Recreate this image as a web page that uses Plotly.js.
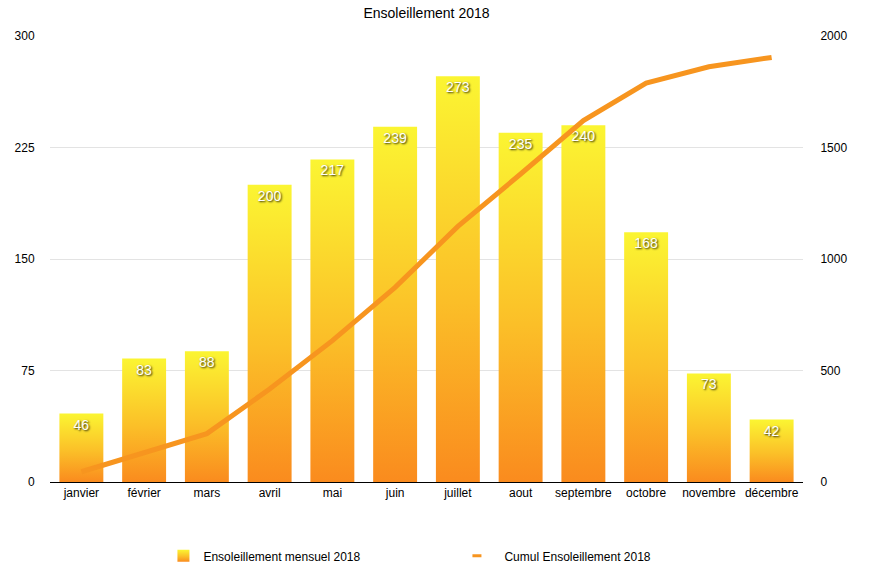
<!DOCTYPE html>
<html>
<head>
<meta charset="utf-8">
<script src="https://cdn.plot.ly/plotly-3.0.1.min.js"></script>
<style>html,body{margin:0;padding:0;background:#fff;}#chart{width:874px;height:579px;}</style>
</head>
<body>
<div id="chart"></div>
<script>
const months = ["janvier","février","mars","avril","mai","juin","juillet","aout","septembre","octobre","novembre","décembre"];
const monthly = [46, 83, 88, 200, 217, 239, 273, 235, 240, 168, 73, 42];
const cumul = [46, 129, 217, 417, 634, 873, 1146, 1381, 1621, 1789, 1862, 1904];
const leftTicks = [0, 75, 150, 225, 300];
const rightTicks = [0, 500, 1000, 1500, 2000];

const font = "Liberation Sans, Arial, Helvetica, sans-serif";

const traces = [
  {
    type: "bar",
    name: "Ensoleillement mensuel 2018",
    x: months,
    y: monthly,
    text: monthly.map(String),
    textposition: "inside",
    insidetextanchor: "end",
    textangle: 0,
    textfont: {color: "#ffffff", size: 14, family: font, shadow: "1px 1px 2px rgba(0,0,0,0.85)"},
    marker: {color: "#fbb02a", line: {width: 0}},
    hoverinfo: "skip"
  },
  {
    type: "scatter",
    mode: "lines",
    name: "Cumul Ensoleillement 2018",
    x: months,
    y: cumul,
    yaxis: "y2",
    line: {color: "#f7951f", width: 5},
    hoverinfo: "skip"
  }
];

const layout = {
  width: 874,
  height: 579,
  margin: {l: 50, r: 71, t: 36, b: 97},
  paper_bgcolor: "#ffffff",
  plot_bgcolor: "#ffffff",
  font: {family: font, size: 12, color: "#000"},
  title: {text: "Ensoleillement 2018", font: {size: 14, color: "#000", family: font}, x: 0.5, xanchor: "center", y: 0.978, yanchor: "middle", xref: "paper"},
  bargap: 0.3,
  showlegend: true,
  legend: {
    orientation: "h",
    xref: "container", yref: "container",
    x: 0.187, xanchor: "left",
    y: 0.04, yanchor: "middle",
    entrywidth: 256,
    font: {size: 12, color: "#000"},
    itemclick: false
  },
  xaxis: {
    showline: true, linecolor: "#000", linewidth: 1,
    showgrid: false, ticks: "", tickfont: {size: 12}, fixedrange: true
  },
  yaxis: {
    range: [0, 300],
    tickvals: leftTicks,
    ticktext: leftTicks.map(String),
    showgrid: true, gridcolor: "#e3e3e3", gridwidth: 1,
    zeroline: false, showline: false,
    ticks: "outside", ticklen: 12, tickcolor: "rgba(0,0,0,0)",
    tickfont: {size: 12}, fixedrange: true
  },
  yaxis2: {
    range: [0, 2000],
    overlaying: "y",
    side: "right",
    tickvals: rightTicks,
    ticktext: rightTicks.map(String),
    showgrid: false, zeroline: false, showline: false,
    ticks: "outside", ticklen: 14, tickcolor: "rgba(0,0,0,0)",
    tickfont: {size: 12}, fixedrange: true
  }
};

function applyGradient(gd) {
  const svg = gd.querySelector("svg.main-svg");
  const ns = "http://www.w3.org/2000/svg";
  let defs = svg.querySelector("defs");
  if (!defs) { defs = document.createElementNS(ns, "defs"); svg.insertBefore(defs, svg.firstChild); }
  const grad = document.createElementNS(ns, "linearGradient");
  grad.setAttribute("id", "bargrad");
  grad.setAttribute("x1", "0"); grad.setAttribute("y1", "0");
  grad.setAttribute("x2", "0"); grad.setAttribute("y2", "1");
  [["0%", "#fbf532"], ["55%", "#fbbf28"], ["100%", "#fa8b1e"]].forEach(([o, c]) => {
    const s = document.createElementNS(ns, "stop");
    s.setAttribute("offset", o); s.setAttribute("stop-color", c);
    grad.appendChild(s);
  });
  defs.appendChild(grad);
  gd.querySelectorAll(".barlayer .point path").forEach(p => { p.style.fill = "url(#bargrad)"; });
  const legendTraces = gd.querySelectorAll(".legend .traces");
  if (legendTraces.length) {
    legendTraces[0].querySelectorAll(".legendpoints path").forEach(p => {
      if (!p.closest(".legendlines")) p.style.fill = "url(#bargrad)";
    });
  }
  gd.querySelectorAll(".legend .legendlines path").forEach(p => {
    p.setAttribute("d", "M8,0h9");
    p.style.strokeWidth = "3px";
  });
}

Plotly.newPlot("chart", traces, layout, {displayModeBar: false, staticPlot: true}).then(applyGradient);
</script>
</body>
</html>
